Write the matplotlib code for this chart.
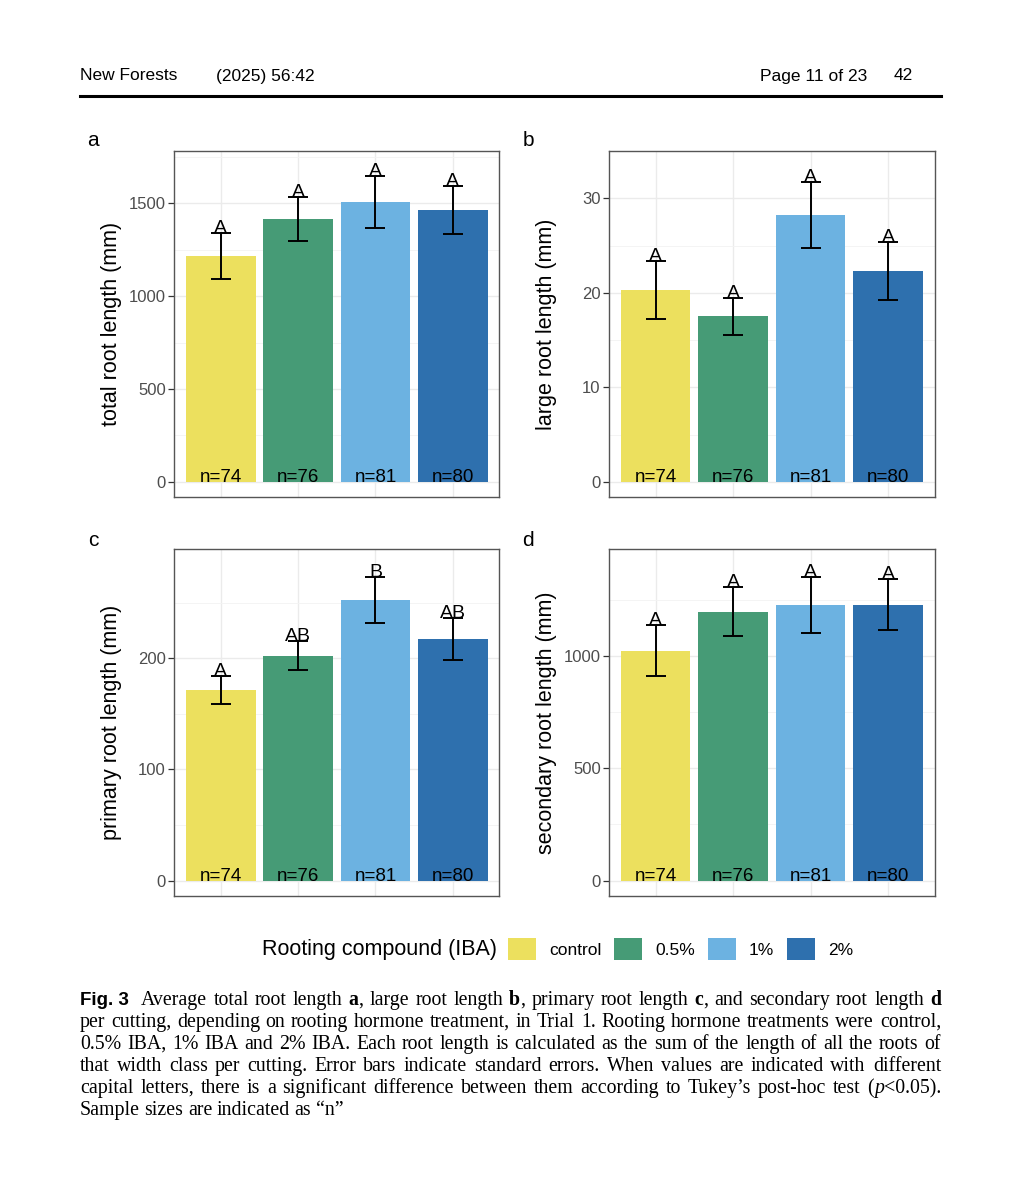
import re
import matplotlib
matplotlib.use("Agg")
import matplotlib.pyplot as plt
from matplotlib.patches import Patch
from matplotlib import font_manager

plt.rcParams['font.family'] = ['Liberation Sans', 'DejaVu Sans']

# ---- data ----
treatments = ['control', '0.5%', '1%', '2%']
colors = ['#ECE05E', '#469B76', '#6CB2E1', '#2E70AE']
n_sizes = [74, 76, 81, 80]

total_mean = [1216, 1415, 1509, 1464]
total_se = [124, 120, 139, 130]
total_letters = ['A', 'A', 'A', 'A']

large_mean = [20.3, 17.5, 28.2, 22.3]
large_se = [3.05, 2.0, 3.5, 3.1]
large_letters = ['A', 'A', 'A', 'A']

primary_mean = [171.5, 202.3, 252.4, 217.0]
primary_se = [12.3, 13.3, 21.0, 19.0]
primary_letters = ['A', 'AB', 'B', 'AB']

secondary_mean = [1024, 1197, 1228, 1228]
secondary_se = [112, 110, 124, 114]
secondary_letters = ['A', 'A', 'A', 'A']

W, H = 1030, 1200
fig = plt.figure(figsize=(W / 100, H / 100), dpi=100)

names = {f.name for f in font_manager.fontManager.ttflist}
narrow = 'Liberation Sans Narrow' if 'Liberation Sans Narrow' in names else 'Liberation Sans'


def px(x, y):
    return x / W, 1 - y / H


def panel(rect, means, ses, letters, ylabel, yticks, ylim, tag, tagpos):
    ax = fig.add_axes(rect)
    x = list(range(1, len(means) + 1))
    ax.bar(x, means, width=0.9, color=colors, zorder=2)
    ax.errorbar(x, means, yerr=ses, fmt='none', ecolor='black', elinewidth=1.4,
                capsize=7.5, capthick=1.4, zorder=3)
    for xi, m, s, l in zip(x, means, ses, letters):
        ax.text(xi, m + s, l, ha='center', va='baseline', fontsize=14, zorder=4)
    for xi, n in zip(x, n_sizes):
        ax.text(xi, 0, 'n=%d' % n, ha='center', va='baseline', fontsize=13.5, zorder=4)
    ax.set_xlim(0.4, 4.6)
    ax.set_ylim(*ylim)
    ax.set_xticks(x)
    ax.set_xticklabels([])
    ax.set_yticks(yticks)
    step = yticks[1] - yticks[0]
    ax.set_yticks([t + step / 2 for t in yticks[:-1]] + [yticks[-1] + step / 2], minor=True)
    ax.grid(True, which='major', color='#EBEBEB', lw=1.0, zorder=0)
    ax.grid(True, which='minor', axis='y', color='#F3F3F3', lw=0.6, zorder=0)
    ax.set_axisbelow(True)
    ax.tick_params(axis='y', which='major', length=4, width=0.9, color='#333333',
                   labelsize=12, labelcolor='#4D4D4D', pad=2)
    ax.tick_params(axis='x', which='major', length=0)
    ax.tick_params(axis='y', which='minor', length=0)
    for sp in ax.spines.values():
        sp.set_color('#555555')
        sp.set_linewidth(1.0)
    ax.set_ylabel(ylabel, fontsize=15.5)
    ax.yaxis.set_label_coords(-0.16, 0.5)
    fig.text(*px(*tagpos), tag, fontsize=15, ha='center', va='center')
    return ax


panel([0.1692, 0.5858, 0.3155, 0.2883], total_mean, total_se, total_letters,
      'total root length (mm)', [0, 500, 1000, 1500], (-83, 1782), 'a', (93, 140))
panel([0.5913, 0.5858, 0.3160, 0.2883], large_mean, large_se, large_letters,
      'large root length (mm)', [0, 10, 20, 30], (-1.6, 34.3), 'b', (528, 140))
panel([0.1692, 0.2536, 0.3155, 0.2887], primary_mean, primary_se, primary_letters,
      'primary root length (mm)', [0, 100, 200], (-13.5, 298), 'c', (93, 540))
panel([0.5913, 0.2536, 0.3160, 0.2887], secondary_mean, secondary_se, secondary_letters,
      'secondary root length (mm)', [0, 500, 1000], (-67, 1475), 'd', (528, 540))

# legend
fig.text(*px(497, 949), 'Rooting compound (IBA)', fontsize=15.5, ha='right', va='center')
handles = [Patch(facecolor=c, edgecolor='none') for c in colors]
fig.legend(handles, treatments, loc='center left', bbox_to_anchor=px(508, 949), ncol=4,
           frameon=False, fontsize=12.5, handlelength=1.6, handleheight=1.65,
           handletextpad=0.75, columnspacing=0.75, borderpad=0, borderaxespad=0)

# page header
fig.text(*px(80, 76), 'New Forests', family=narrow, fontsize=12.5, va='center')
fig.text(*px(216, 76), '(2025) 56:42', family=narrow, fontsize=12.5, va='center')
fig.text(*px(760, 76), 'Page 11 of 23', family=narrow, fontsize=12.5, va='center')
fig.text(*px(894, 76), '42', family=narrow, fontsize=12.5, va='center')
fig.add_artist(plt.Line2D([80 / W, 941 / W], [1 - 96 / H] * 2, color='black', lw=2.2))

# caption, justified word by word
caption = [
    "#Fig.\u00a03#  Average total root length *a*, large root length *b*, primary root length *c*, and secondary root length *d*",
    "per cutting, depending on rooting hormone treatment, in Trial 1. Rooting hormone treatments were control,",
    "0.5% IBA, 1% IBA and 2% IBA. Each root length is calculated as the sum of the length of all the roots of",
    "that width class per cutting. Error bars indicate standard errors. When values are indicated with different",
    "capital letters, there is a significant difference between them according to Tukey\u2019s post-hoc test (_p_<0.05).",
    "Sample sizes are indicated as \u201cn\u201d",
]
serif = dict(family='Liberation Serif', fontsize=14.3)
styles = {'*': dict(serif, weight='bold'), '_': dict(serif, style='italic'),
          '#': dict(family=narrow, fontsize=13.5, weight='bold')}
renderer = fig.canvas.get_renderer()


def pieces(word):
    out = []
    for part in re.split(r'(\*[^*]+\*|_[^_]+_|#[^#]+#)', word):
        if part:
            if part[0] in styles and len(part) > 2 and part[-1] == part[0]:
                out.append((part[1:-1], styles[part[0]]))
            else:
                out.append((part, serif))
    return out


left, right = 80, 941
for i, line in enumerate(caption):
    ybase = 1005 + 22 * i
    words = []
    for w in line.split(' '):
        ts = []
        for s, st in pieces(w):
            t = fig.text(0, 1 - ybase / H, s, va='baseline', **st)
            ts.append((t, t.get_window_extent(renderer).width))
        words.append(ts)
    widths = [sum(wd for _, wd in ts) for ts in words]
    last = i == len(caption) - 1
    gap = 4.5 if last else (right - left - sum(widths)) / (len(words) - 1)
    x = left
    for ts, wd in zip(words, widths):
        xx = x
        for t, w in ts:
            t.set_x(xx / W)
            xx += w
        x += wd + gap

fig.savefig('out.png', dpi=100, facecolor='white')
